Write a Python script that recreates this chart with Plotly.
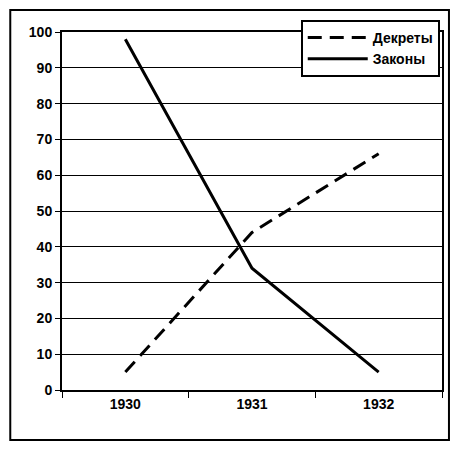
import plotly.graph_objects as go

years = ["1930", "1931", "1932"]
decrees = [5, 44, 66]
laws = [98, 34, 5]

W, H = 445, 434
L, R, T, B = 54, 9, 24, 52
pw, ph = W - L - R, H - T - B

fig = go.Figure()
fig.add_trace(go.Scatter(x=[0, 1, 2], y=decrees, mode="lines", name="Декреты",
                         line=dict(color="black", width=3, dash="14px,8px")))
fig.add_trace(go.Scatter(x=[0, 1, 2], y=laws, mode="lines", name="Законы",
                         line=dict(color="black", width=3)))

font = dict(family="Liberation Sans, Arial", size=14, color="black", weight="bold")
fig.update_layout(
    width=W, height=H, margin=dict(l=L, r=R, t=T, b=B),
    plot_bgcolor="white", paper_bgcolor="white", font=font,
    legend=dict(x=(294 - L) / pw, y=1 + (T - 12) / ph, xanchor="left", yanchor="top",
                bordercolor="black", borderwidth=2, bgcolor="white", font=font,
                itemwidth=60, tracegroupgap=14),
    xaxis=dict(range=[-0.5, 2.5], tickvals=[0, 1, 2], ticktext=years, ticks="",
               showgrid=False, showline=True, linecolor="black", linewidth=2,
               mirror=True, zeroline=False,
               minor=dict(tickvals=[-0.5, 0.5, 1.5, 2.5], ticks="outside",
                          ticklen=6, tickcolor="black", showgrid=False)),
    yaxis=dict(range=[0, 100], dtick=10, ticks="outside", ticklen=5, tickcolor="black",
               showgrid=True, gridcolor="black", gridwidth=1, showline=True,
               linecolor="black", linewidth=2, mirror=True, zeroline=False),
)
fig.add_shape(type="rect", xref="paper", yref="paper",
              x0=-(L - 2) / pw, x1=1 + (R - 2) / pw,
              y0=-(B - 2) / ph, y1=1 + (T - 2) / ph,
              line=dict(color="black", width=2))
fig.write_html("out.html")
